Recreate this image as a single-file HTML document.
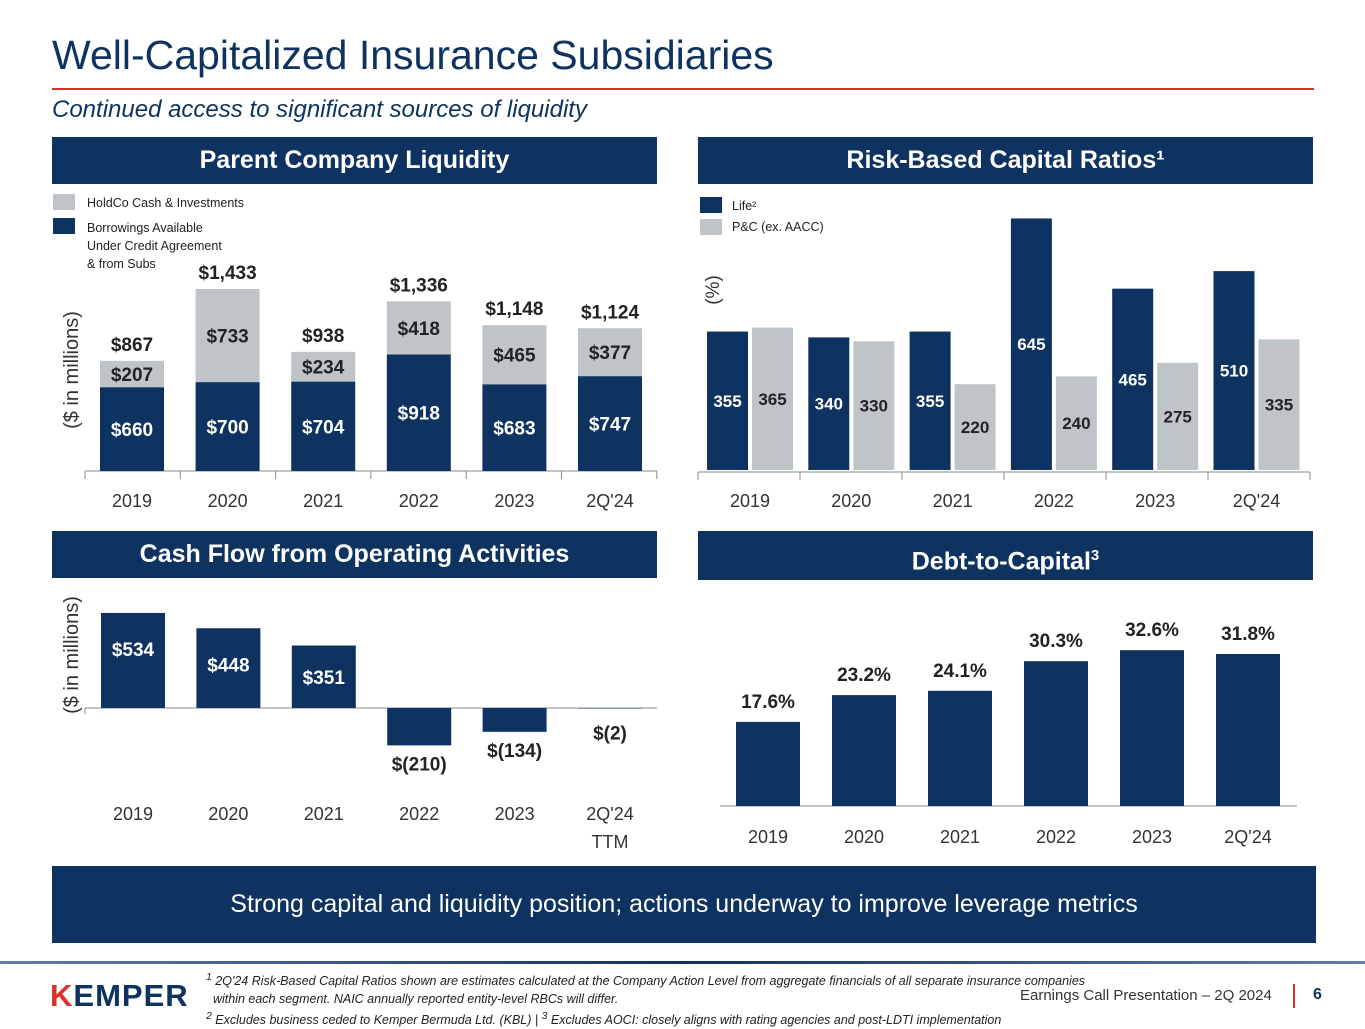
<!DOCTYPE html>
<html><head><meta charset="utf-8"><style>
body{margin:0;width:1365px;height:1024px;background:#fff;font-family:"Liberation Sans",sans-serif;position:relative;overflow:hidden}
.abs{position:absolute}
.hdr{position:absolute;background:#0e3360;color:#fff;font-weight:bold;font-size:25px;text-align:center}
svg text{font-family:"Liberation Sans",sans-serif}
</style></head><body>
<div class="abs" style="left:52px;top:32px;font-size:41px;color:#0e3360">Well-Capitalized Insurance Subsidiaries</div>
<div class="abs" style="left:52px;top:88px;width:1262px;height:2px;background:#d9322b"></div>
<div class="abs" style="left:52px;top:96px;font-size:24px;font-style:italic;color:#0e3360">Continued access to significant sources of liquidity</div>
<div class="hdr" style="left:52px;top:137px;width:605px;height:47px;line-height:47px">Parent Company Liquidity</div>
<div class="hdr" style="left:698px;top:137px;width:615px;height:47px;line-height:47px">Risk-Based Capital Ratios¹</div>
<div class="hdr" style="left:52px;top:531px;width:605px;height:47px;line-height:47px">Cash Flow from Operating Activities</div>
<div class="hdr" style="left:698px;top:531px;width:615px;height:49px;line-height:49px">Debt-to-Capital<sup style="font-size:15px">3</sup></div>
<div class="hdr" style="left:52px;top:866px;width:1264px;height:77px;line-height:77px;font-weight:normal;font-size:25px">Strong capital and liquidity position; actions underway to improve leverage metrics</div>

<svg class="abs" style="left:0;top:0" width="1365" height="1024" id="charts"></svg>

<div class="abs" style="left:0;top:961px;width:1365px;height:3px;background:linear-gradient(90deg,#5a7fb0,#0e3360,#5a7fb0)"></div>
<div class="abs" style="left:50px;top:978px;font-size:31px;font-weight:bold;color:#0e3360;letter-spacing:1px"><span style="color:#d9322b">K</span>EMPER</div>
<div class="abs" style="left:206px;top:969px;font-size:12.5px;font-style:italic;color:#222;line-height:18px"><sup>1</sup> 2Q'24 Risk-Based Capital Ratios shown are estimates calculated at the Company Action Level from aggregate financials of all separate insurance companies<br>&nbsp;&nbsp;within each segment. NAIC annually reported entity-level RBCs will differ.<br><sup>2</sup> Excludes business ceded to Kemper Bermuda Ltd. (KBL) | <sup>3</sup> Excludes AOCI: closely aligns with rating agencies and post-LDTI implementation</div>
<div class="abs" style="left:1020px;top:987px;font-size:15px;color:#333">Earnings Call Presentation – 2Q 2024</div>
<div class="abs" style="left:1293px;top:984px;width:2px;height:24px;background:#d9322b"></div>
<div class="abs" style="left:1313px;top:986px;font-size:16px;font-weight:bold;color:#0e3360">6</div>

<script>
const years=["2019","2020","2021","2022","2023","2Q'24"];
const holdco=[207,733,234,418,465,377];
const borrow=[660,700,704,918,683,747];
const totals=[867,1433,938,1336,1148,1124];
const rbcLife=[355,340,355,645,465,510];
const rbcPC=[365,330,220,240,275,335];
const cashYears=["2019","2020","2021","2022","2023","2Q'24"];
const cashFlow=[534,448,351,-210,-134,-2];
const cashLabels=["$534","$448","$351","$(210)","$(134)","$(2)"];
const debtCap=[17.6,23.2,24.1,30.3,32.6,31.8];

const NAVY="#0e3360",GRAY="#bfc4c9";
const svg=document.getElementById('charts');
const NS="http://www.w3.org/2000/svg";
function el(tag,attrs,parent){const e=document.createElementNS(NS,tag);for(const k in attrs)e.setAttribute(k,attrs[k]);(parent||svg).appendChild(e);return e;}
function txt(x,y,s,size,fill,weight,anchor){const t=el('text',{x:x,y:y,'font-size':size,fill:fill,'font-weight':weight||'normal','text-anchor':anchor||'middle'});t.textContent=s;return t;}

// Parent liquidity
{const base=471,sc=0.127,x0=100,step=95.6,w=64;
const xs=i=>x0+i*step, ys=v=>v*sc;
el('line',{x1:85,y1:base,x2:657,y2:base,stroke:'#888'});
for(let i=0;i<=6;i++){el('line',{x1:85+i*95.3,y1:base,x2:85+i*95.3,y2:base+8,stroke:'#888'});}
years.forEach((y,i)=>{
 const hb=ys(borrow[i]),hh=ys(holdco[i]);
 const r1=el('rect',{x:xs(i),y:base-hb,width:w,height:hb,fill:NAVY});
 
 const r2=el('rect',{x:xs(i),y:base-hb-hh,width:w,height:hh,fill:GRAY});
 
 txt(xs(i)+w/2,base-hb/2+7,'$'+borrow[i],19,'#fff','bold');
 txt(xs(i)+w/2,base-hb-hh/2+7,'$'+holdco[i],19,'#222','bold');
 txt(xs(i)+w/2,base-hb-hh-10,'$'+totals[i].toLocaleString('en-US'),19,'#222','bold');
 txt(xs(i)+w/2,base+36,y,18,'#333');
});
const yt=txt(0,0,'($ in millions)',20,'#333');yt.setAttribute('transform','translate(78,370) rotate(-90)');
el('rect',{x:53,y:194,width:22,height:16,fill:GRAY});
el('rect',{x:53,y:218,width:22,height:16,fill:NAVY});
txt(87,207,'HoldCo Cash & Investments',12.5,'#222','normal','start');
txt(87,232,'Borrowings Available',12.5,'#222','normal','start');
txt(87,250,'Under Credit Agreement',12.5,'#222','normal','start');
txt(87,268,'& from Subs',12.5,'#222','normal','start');
}
// RBC
{const base=470,sc=0.39,x0=707,step=101.3,w=41;
el('line',{x1:698,y1:base+2,x2:1310,y2:base+2,stroke:'#888'});
for(let i=0;i<=6;i++){el('line',{x1:698+i*102,y1:base+2,x2:698+i*102,y2:base+10,stroke:'#888'});}
years.forEach((y,i)=>{
 const x=x0+i*step,hl=rbcLife[i]*sc,hp=rbcPC[i]*sc;
 const a=el('rect',{x:x,y:base-hl,width:w,height:hl,fill:NAVY});
 
 const b=el('rect',{x:x+45,y:base-hp,width:w,height:hp,fill:GRAY});
 
 txt(x+w/2,base-hl/2+6,rbcLife[i],17,'#fff','bold');
 txt(x+45+w/2,base-hp/2+6,rbcPC[i],17,'#222','bold');
 txt(x+43,base+37,y,18,'#333');
});
const yt=txt(0,0,'(%)',19,'#333');yt.setAttribute('transform','translate(719,290) rotate(-90)');
el('rect',{x:700,y:197,width:22,height:16,fill:NAVY});
el('rect',{x:700,y:219,width:22,height:16,fill:GRAY});
txt(732,210,'Life²',12.5,'#222','normal','start');
txt(732,231,'P&C (ex. AACC)',12.5,'#222','normal','start');
}
// Cash flow
{const zero=708,sc=0.178,x0=101,step=95.4,w=64;
el('line',{x1:85,y1:zero,x2:657,y2:zero,stroke:'#888'});
el('line',{x1:85,y1:zero,x2:85,y2:zero+6,stroke:'#888'});
cashYears.forEach((y,i)=>{
 const x=x0+i*step,v=cashFlow[i],h=Math.abs(v)*sc;
 const r=el('rect',{x:x,y:v>=0?zero-h:zero,width:w,height:Math.max(h,0.5),fill:NAVY});
 
 if(v>=50)txt(x+w/2,zero-h+Math.min(h/2,36)+7,cashLabels[i],19,'#fff','bold');
 else txt(x+w/2,(v<-50?zero+h+25:zero+h+31),cashLabels[i],19,'#222','bold');
 txt(x+w/2,zero+112,y,18,'#333');
});
txt(x0+5*step+w/2,zero+140,'TTM',18,'#333');
const yt=txt(0,0,'($ in millions)',20,'#333');yt.setAttribute('transform','translate(78,655) rotate(-90)');
}
// Debt to capital
{const base=806,sc=4.78,x0=736,step=96,w=64;
el('line',{x1:720,y1:base,x2:1297,y2:base,stroke:'#888'});
years.forEach((y,i)=>{
 const x=x0+i*step,h=debtCap[i]*sc;
 const r=el('rect',{x:x,y:base-h,width:w,height:h,fill:NAVY});
 
 txt(x+w/2,base-h-14,debtCap[i].toFixed(1)+'%',19,'#222','bold');
 txt(x+w/2,base+37,y,18,'#333');
});
}
</script>
</body></html>
